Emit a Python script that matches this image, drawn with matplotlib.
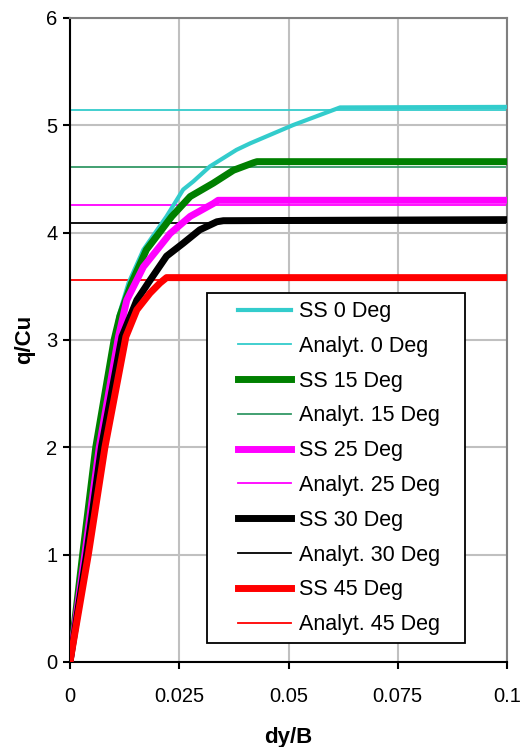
import matplotlib.pyplot as plt
from matplotlib.patches import Rectangle

plt.rcParams['font.family'] = ['Liberation Sans', 'DejaVu Sans']

# SS curves (dy/B, q/Cu)
ss0_x = [0, 0.0029, 0.0059, 0.0098, 0.0111, 0.0134, 0.0168, 0.0221, 0.0259, 0.0282,
         0.032, 0.0381, 0.0412, 0.051, 0.0618, 0.1]
ss0_y = [0, 1, 2, 2.91, 3.22, 3.53, 3.84, 4.15, 4.40, 4.475,
         4.615, 4.77, 4.83, 5.00, 5.165, 5.17]

ss15_x = [0, 0.0029, 0.0059, 0.0101, 0.0114, 0.0141, 0.0175, 0.0233, 0.0275, 0.0328,
          0.0374, 0.042, 0.0428, 0.1]
ss15_y = [0, 1, 2, 3, 3.22, 3.53, 3.84, 4.15, 4.335, 4.46,
          4.58, 4.65, 4.66, 4.66]

ss25_x = [0, 0.0034, 0.0067, 0.0111, 0.013, 0.0168, 0.0229, 0.0275, 0.0328, 0.0339, 0.1]
ss25_y = [0, 1, 2, 3.03, 3.37, 3.68, 3.99, 4.15, 4.27, 4.30, 4.30]

ss30_x = [0, 0.0038, 0.0072, 0.0119, 0.0153, 0.0179, 0.0221, 0.0259, 0.0297, 0.0336,
          0.0351, 0.1]
ss30_y = [0, 1, 2, 3.03, 3.37, 3.53, 3.78, 3.90, 4.025, 4.10,
          4.11, 4.12]

ss45_x = [0, 0.0042, 0.008, 0.0128, 0.0153, 0.0183, 0.0206, 0.0221, 0.1]
ss45_y = [0, 1, 2, 3.03, 3.28, 3.435, 3.53, 3.58, 3.58]

# analytical bearing capacity values
analyt = [5.14, 4.61, 4.26, 4.09, 3.56]
angles = [0, 15, 25, 30, 45]

ss_colors = ['#33CCCC', '#008000', '#FF00FF', '#000000', '#FF0000']
an_colors = ['#33CCCC', '#339966', '#FF00FF', '#000000', '#FF0000']
ss_widths = [3, 5, 5, 5, 5]

ss_x = [ss0_x, ss15_x, ss25_x, ss30_x, ss45_x]
ss_y = [ss0_y, ss15_y, ss25_y, ss30_y, ss45_y]

fig = plt.figure(figsize=(5.26, 7.47), dpi=100)
ax = fig.add_axes([0.133, 0.1138, 0.831, 0.8624])

for i in range(5):
    ax.plot(ss_x[i], ss_y[i], color=ss_colors[i], lw=ss_widths[i],
            label='SS %d Deg' % angles[i], zorder=3, solid_joinstyle='round')
    ax.plot([0, 0.1], [analyt[i], analyt[i]], color=an_colors[i], lw=1.3,
            label='Analyt. %d Deg' % angles[i], zorder=2)

ax.set_xlim(0, 0.1)
ax.set_ylim(0, 6)
ax.set_xticks([0, 0.025, 0.05, 0.075, 0.1])
ax.set_xticklabels(['0', '0.025', '0.05', '0.075', '0.1'])
ax.set_yticks([0, 1, 2, 3, 4, 5, 6])
ax.grid(True, color='#C0C0C0', lw=1.5, zorder=0)
ax.set_axisbelow(True)
ax.tick_params(labelsize=14.5, length=5, width=1.5, direction='out')
ax.tick_params(axis='x', pad=13)
ax.tick_params(axis='y', pad=4)
for s in ['top', 'right']:
    ax.spines[s].set_color('#808080')
    ax.spines[s].set_linewidth(1.5)
for s in ['left', 'bottom']:
    ax.spines[s].set_linewidth(1.5)

ax.set_xlabel('dy/B', fontsize=16, fontweight='bold', labelpad=15)
ax.set_ylabel('q/Cu', fontsize=16, fontweight='bold', labelpad=8)

# legend box
ax.add_patch(Rectangle((0.313, 0.0295), 0.591, 0.5435, transform=ax.transAxes,
                       facecolor='white', edgecolor='black', lw=1.3, zorder=4))
leg = ax.legend(loc='center', bbox_to_anchor=(0.6156, 0.301), fontsize=15.5,
                frameon=False, handlelength=2.45, handletextpad=0.35,
                labelspacing=0.64, borderpad=0, borderaxespad=0)
leg.set_zorder(5)

fig.savefig('out.png', dpi=100)
